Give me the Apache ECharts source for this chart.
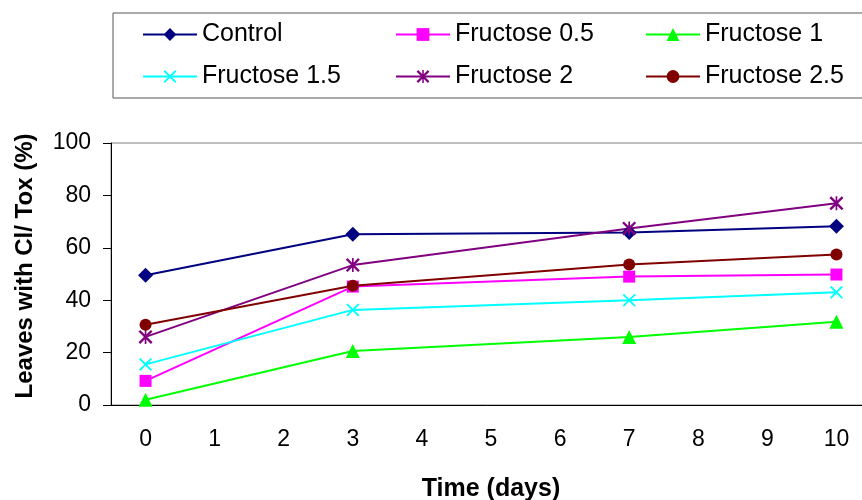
<!DOCTYPE html>
<html>
<head>
<meta charset="utf-8">
<script src="https://cdn.jsdelivr.net/npm/echarts@6/dist/echarts.min.js"></script>
<style>
  html, body { margin: 0; padding: 0; background: #fff; }
  #chart { width: 862px; height: 500px; }
</style>
</head>
<body>
<div id="chart"></div>
<script>
// x axis categories (days 0..10), measurements only on some days
const days = ['0', '1', '2', '3', '4', '5', '6', '7', '8', '9', '10']
const sampleDays = [0, 3, 7, 10]

const control = [49.5, 65.2, 65.8, 68.2]
const fructose05 = [9.2, 45.2, 49.0, 49.8]
const fructose1 = [2.0, 20.6, 26.0, 31.8]
const fructose15 = [15.5, 36.3, 40.0, 43.0]
const fructose2 = [26.0, 53.4, 67.4, 77.0]
const fructose25 = [30.6, 45.5, 53.6, 57.4]

const yTicks = [0, 20, 40, 60, 80, 100]

const font = 'Liberation Sans, Arial, sans-serif'

// symbols that ECharts does not have built in
const crossPath = 'path://M0,1 L1,0 L5,4 L9,0 L10,1 L6,5 L10,9 L9,10 L5,6 L1,10 L0,9 L4,5 Z'
const starPath = 'path://M0,1.2 L1.2,0 L5,3.8 L8.8,0 L10,1.2 L6.2,5 L10,8.8 L8.8,10 L5,6.2 L1.2,10 L0,8.8 L3.8,5 Z M4.4,0 L5.6,0 L5.6,10 L4.4,10 Z'

function pairs(vals) {
  return sampleDays.map((d, i) => [d, vals[i]])
}

function makeSeries(name, vals, color, symbol, size) {
  return {
    name: name,
    type: 'line',
    data: pairs(vals),
    symbol: symbol,
    symbolSize: size,
    showAllSymbol: true,
    lineStyle: { color: color, width: 2 },
    itemStyle: { color: color },
    emphasis: { disabled: true }
  }
}

const chart = echarts.init(document.getElementById('chart'), null, { renderer: 'canvas' })

const legendCommon = {
  orient: 'vertical',
  top: 22,
  padding: 0,
  itemWidth: 54,
  itemHeight: 16,
  itemGap: 17,
  selectedMode: false,
  textStyle: { fontFamily: font, fontSize: 25, color: '#000', lineHeight: 24 }
}

chart.setOption({
  animation: false,
  backgroundColor: '#fff',
  graphic: [{
    type: 'rect',
    shape: { x: 113, y: 13, width: 800, height: 85 },
    style: { fill: 'none', stroke: '#555', lineWidth: 1 },
    z: 0
  }],
  legend: [
    Object.assign({}, legendCommon, { left: 142, data: ['Control', 'Fructose 1.5'] }),
    Object.assign({}, legendCommon, { left: 395, data: ['Fructose 0.5', 'Fructose 2'] }),
    Object.assign({}, legendCommon, { left: 645, data: ['Fructose 1', 'Fructose 2.5'] })
  ],
  grid: {
    show: true,
    left: 111,
    top: 143,
    width: 760,
    bottom: 95,
    borderColor: '#808080',
    borderWidth: 1,
    containLabel: false,
    outerBoundsMode: 'none'
  },
  xAxis: {
    type: 'category',
    data: days,
    boundaryGap: true,
    name: 'Time (days)',
    nameLocation: 'middle',
    nameGap: 72,
    nameTextStyle: { fontFamily: font, fontSize: 25, fontWeight: 'bold', color: '#000' },
    axisLine: { lineStyle: { color: '#000', width: 1 } },
    axisTick: { show: false },
    axisLabel: { fontFamily: font, fontSize: 23, color: '#000', margin: 23, interval: 0 },
    splitLine: { show: false }
  },
  yAxis: {
    type: 'value',
    min: yTicks[0],
    max: yTicks[yTicks.length - 1],
    interval: 20,
    name: 'Leaves with Cl/ Tox (%)',
    nameLocation: 'middle',
    nameGap: 74,
    nameTextStyle: { fontFamily: font, fontSize: 24, fontWeight: 'bold', color: '#000', padding: [0, 0, 0, 16] },
    axisLine: { show: true, lineStyle: { color: '#000', width: 1 } },
    axisTick: { show: true, length: 8, inside: false, lineStyle: { color: '#000' } },
    axisLabel: { fontFamily: font, fontSize: 23, color: '#000', margin: 20 },
    splitLine: { show: false }
  },
  series: [
    makeSeries('Control', control, '#000080', 'diamond', 15),
    makeSeries('Fructose 0.5', fructose05, '#ff00ff', 'rect', 12),
    makeSeries('Fructose 1', fructose1, '#00ff00', 'triangle', 14),
    makeSeries('Fructose 1.5', fructose15, '#00ffff', crossPath, 13),
    makeSeries('Fructose 2', fructose2, '#800080', starPath, 14),
    makeSeries('Fructose 2.5', fructose25, '#800000', 'circle', 12)
  ]
})
</script>
</body>
</html>
